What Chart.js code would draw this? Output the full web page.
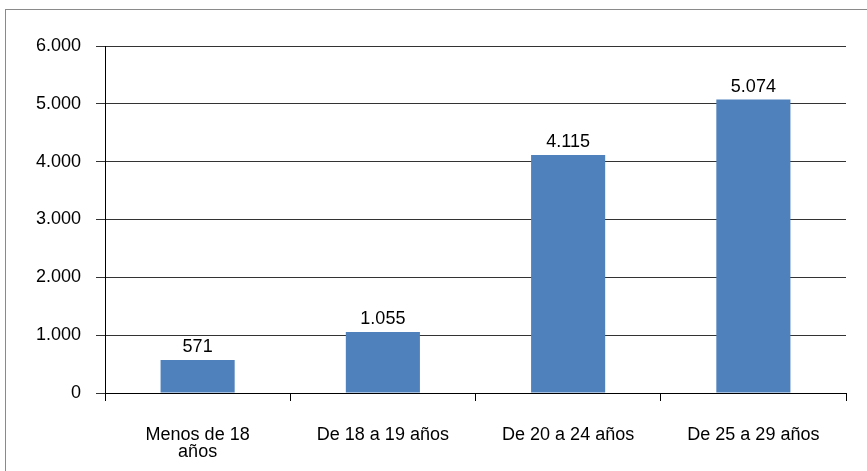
<!DOCTYPE html>
<html>
<head>
<meta charset="utf-8">
<script src="https://cdn.jsdelivr.net/npm/chart.js@4/dist/chart.umd.min.js"></script>
<style>
  html, body { margin: 0; padding: 0; background: #fff; overflow: hidden; }
  #wrap { position: relative; width: 867px; height: 471px; }
  #frame { position: absolute; left: 5px; top: 9px; width: 900px; height: 500px; border: 1px solid #8a8a8a; box-sizing: border-box; }
  canvas { position: absolute; left: 0; top: 0; }
</style>
</head>
<body>
<div id="wrap">
  <div id="frame"></div>
  <canvas id="chart" width="867" height="471"></canvas>
</div>
<script>
const categories = [['Menos de 18', 'años'], 'De 18 a 19 años', 'De 20 a 24 años', 'De 25 a 29 años'];
const values = [571, 1055, 4115, 5074];
const yMax = 6000;
const yStep = 1000;

function fmt(n) {
  return String(n).replace(/\B(?=(\d{3})+(?!\d))/g, '.');
}

const barLabels = {
  id: 'barLabels',
  afterDatasetsDraw(chart) {
    const c = chart.ctx;
    const meta = chart.getDatasetMeta(0);
    c.save();
    c.font = '18px "Liberation Sans", Arial, sans-serif';
    c.fillStyle = '#000';
    c.textAlign = 'center';
    c.textBaseline = 'bottom';
    meta.data.forEach((bar, i) => {
      c.fillText(fmt(values[i]), bar.x, bar.y - 4);
    });
    c.restore();
  }
};

const font = { family: '"Liberation Sans", Arial, sans-serif', size: 18, lineHeight: 0.95 };

new Chart(document.getElementById('chart'), {
  type: 'bar',
  data: {
    labels: categories,
    datasets: [{
      data: values,
      backgroundColor: '#4F81BD',
      borderWidth: 0,
      categoryPercentage: 1,
      barPercentage: 0.4
    }]
  },
  options: {
    responsive: false,
    animation: false,
    layout: { padding: { left: 0, right: 21, top: 46, bottom: 0 } },
    plugins: { legend: { display: false }, tooltip: { enabled: false } },
    scales: {
      x: {
        offset: true,
        grid: { offset: true, drawOnChartArea: false, color: '#000', tickLength: 8 },
        border: { color: '#000' },
        ticks: { font, color: '#000', padding: 25, maxRotation: 0, autoSkip: false },
        afterFit: s => { s.height = 78; }
      },
      y: {
        min: 0,
        max: yMax,
        grid: { color: '#333', tickLength: 9 },
        border: { color: '#000' },
        ticks: { stepSize: yStep, font, color: '#000', padding: 15, callback: v => fmt(v) },
        afterFit: s => { s.width = 105; }
      }
    }
  },
  plugins: [barLabels]
});
</script>
</body>
</html>
